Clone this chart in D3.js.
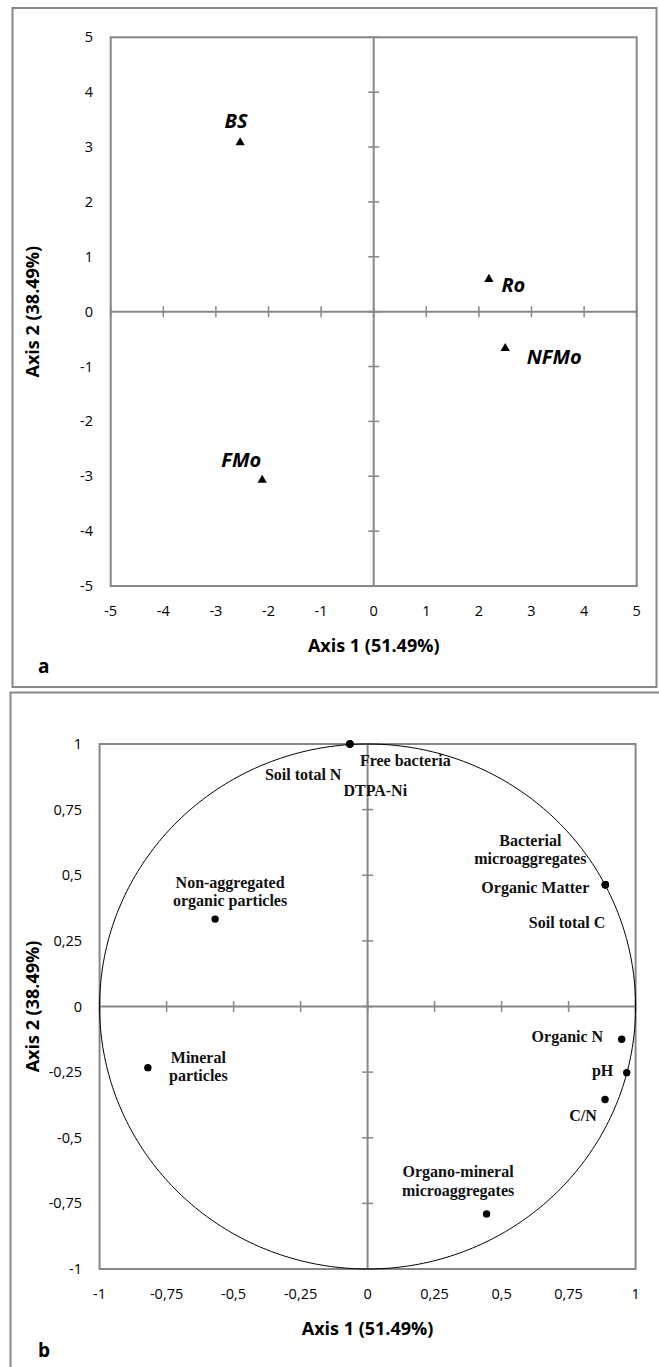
<!DOCTYPE html>
<html><head><meta charset="utf-8">
<script src="https://cdn.jsdelivr.net/npm/d3@7"></script>
<style>body{margin:0;background:#fff}svg{display:block}</style>
</head><body>
<svg id="c" width="659" height="1367"></svg>
<script>
// ---- Panel a data (sample scores) ----
const sampleNames = ["BS", "Ro", "NFMo", "FMo"];
const sampleX = [-2.54, 2.19, 2.50, -2.12];
const sampleY = [3.08, 0.59, -0.67, -3.07];
const ticksA = [-5, -4, -3, -2, -1, 0, 1, 2, 3, 4, 5];
const tickLabelsA = ["-5", "-4", "-3", "-2", "-1", "0", "1", "2", "3", "4", "5"];

// ---- Panel b data (variable correlations) ----
const varNames = ["Free bacteria", "Soil total N", "DTPA-Ni", "Organic Matter", "Bacterial microaggregates", "Soil total C",
  "Non-aggregated organic particles", "Mineral particles", "Organic N", "pH", "C/N", "Organo-mineral microaggregates"];
const varX = [-0.066, -0.066, -0.066, 0.887, 0.887, 0.887, -0.569, -0.82, 0.948, 0.967, 0.886, 0.444];
const varY = [1.0, 1.0, 1.0, 0.464, 0.464, 0.464, 0.333, -0.233, -0.125, -0.252, -0.354, -0.79];
const ticksB = [-1, -0.75, -0.5, -0.25, 0, 0.25, 0.5, 0.75, 1];
const tickLabelsB = ["-1", "-0,75", "-0,5", "-0,25", "0", "0,25", "0,5", "0,75", "1"];

// layout (label placement relative to point, px)
const labelA = [
  {dx: -4, dy: -14.5, anchor: "middle"},
  {dx: 12.5, dy: 12.5, anchor: "start"},
  {dx: 21.5, dy: 16, anchor: "start"},
  {dx: -1, dy: -13.5, anchor: "end"}];
const labelB = [
  {dx: 10, dy: 22, anchor: "start", lines: ["Free bacteria"]},
  {dx: -8.5, dy: 35.5, anchor: "end", lines: ["Soil total N"]},
  {dx: -6.5, dy: 51.5, anchor: "start", lines: ["DTPA-Ni"]},
  {dx: -16, dy: 8, anchor: "end", lines: ["Organic Matter"]},
  {dx: -75, dy: -39, anchor: "middle", lines: ["Bacterial", "microaggregates"]},
  {dx: 0, dy: 43, anchor: "end", lines: ["Soil total C"]},
  {dx: 15, dy: -31, anchor: "middle", lines: ["Non-aggregated", "organic particles"]},
  {dx: 50.5, dy: -5, anchor: "middle", lines: ["Mineral", "particles"]},
  {dx: -18.5, dy: 3, anchor: "end", lines: ["Organic N"]},
  {dx: -13.5, dy: 3.5, anchor: "end", lines: ["pH"]},
  {dx: -22, dy: 22, anchor: "middle", lines: ["C/N"]},
  {dx: -28.5, dy: -36.5, anchor: "middle", lines: ["Organo-mineral", "microaggregates"]}];

const svg = d3.select("#c");
const GRAY = "#878787";
const sans = "'Open Sans', sans-serif";
const serif = "'Liberation Serif', 'Times New Roman', serif";

// outer panel borders
svg.append("rect").attr("x", 12.5).attr("y", 8).attr("width", 644).attr("height", 679)
  .attr("fill", "none").attr("stroke", GRAY).attr("stroke-width", 2);
svg.append("rect").attr("x", 10.5).attr("y", 692.5).attr("width", 660).attr("height", 700)
  .attr("fill", "none").attr("stroke", GRAY).attr("stroke-width", 2);

function panel(cfg) {
  const {x, y, ticks, labels, g} = cfg;
  const [x0, x1] = x.range(), [y0, y1] = y.range();
  g.append("rect").attr("x", x0).attr("y", y1).attr("width", x1 - x0).attr("height", y0 - y1)
    .attr("fill", "none").attr("stroke", GRAY).attr("stroke-width", 2);
  g.append("line").attr("x1", x(0)).attr("x2", x(0)).attr("y1", y0).attr("y2", y1)
    .attr("stroke", GRAY).attr("stroke-width", 2);
  g.append("line").attr("x1", x0).attr("x2", x1).attr("y1", y(0)).attr("y2", y(0))
    .attr("stroke", GRAY).attr("stroke-width", 2);
  g.selectAll(".tx").data(ticks).join("line").attr("class", "tx")
    .attr("x1", d => x(d)).attr("x2", d => x(d)).attr("y1", y(0) - 5.5).attr("y2", y(0) + 5.5)
    .attr("stroke", GRAY).attr("stroke-width", 1.5);
  g.selectAll(".ty").data(ticks).join("line").attr("class", "ty")
    .attr("y1", d => y(d)).attr("y2", d => y(d)).attr("x1", x(0) - 5.5).attr("x2", x(0) + 5.5)
    .attr("stroke", GRAY).attr("stroke-width", 1.5);
  g.selectAll(".lx").data(ticks).join("text").attr("class", "lx")
    .attr("x", d => x(d)).attr("y", y0 + 29.5).attr("text-anchor", "middle")
    .attr("font-family", sans).attr("font-size", 14.5).attr("fill", "#000")
    .text((d, i) => labels[i]);
  g.selectAll(".ly").data(ticks).join("text").attr("class", "ly")
    .attr("x", cfg.ylabX).attr("y", d => y(d) + 5).attr("text-anchor", "end")
    .attr("font-family", sans).attr("font-size", 14.5).attr("fill", "#000")
    .text((d, i) => labels[i]);
  g.append("text").attr("x", (x0 + x1) / 2).attr("y", y0 + 65.5).attr("text-anchor", "middle")
    .attr("font-family", sans).attr("font-weight", "bold").attr("font-size", 18).text("Axis 1 (51.49%)");
  g.append("text").attr("transform", `translate(${cfg.ytitleX},${(y0 + y1) / 2}) rotate(-90)`)
    .attr("text-anchor", "middle").attr("font-family", sans).attr("font-weight", "bold")
    .attr("font-size", 18).text("Axis 2 (38.49%)");
  g.append("text").attr("x", 38).attr("y", cfg.letterY).attr("font-family", sans)
    .attr("font-weight", "bold").attr("font-size", 19).text(cfg.letter);
}

// ---- Panel a ----
const xA = d3.scaleLinear().domain([-5, 5]).range([110.7, 636.7]);
const yA = d3.scaleLinear().domain([-5, 5]).range([586, 37.3]);
const gA = svg.append("g");
panel({x: xA, y: yA, ticks: ticksA, labels: tickLabelsA, g: gA, ylabX: 93, ytitleX: 39, letter: "a", letterY: 673});
const tri = d3.symbol().type(d3.symbolTriangle).size(38);
gA.selectAll(".pt").data(sampleNames).join("path").attr("class", "pt")
  .attr("transform", (d, i) => `translate(${xA(sampleX[i])},${yA(sampleY[i])})`)
  .attr("d", tri).attr("fill", "#000");
gA.selectAll(".pl").data(sampleNames).join("text").attr("class", "pl")
  .attr("x", (d, i) => xA(sampleX[i]) + labelA[i].dx)
  .attr("y", (d, i) => yA(sampleY[i]) + labelA[i].dy)
  .attr("text-anchor", (d, i) => labelA[i].anchor)
  .attr("font-family", sans).attr("font-weight", "bold").attr("font-style", "italic")
  .attr("font-size", 20).text(d => d);

// ---- Panel b ----
const xB = d3.scaleLinear().domain([-1, 1]).range([99.6, 635.6]);
const yB = d3.scaleLinear().domain([-1, 1]).range([1269, 744]);
const gB = svg.append("g");
panel({x: xB, y: yB, ticks: ticksB, labels: tickLabelsB, g: gB, ylabX: 82, ytitleX: 39, letter: "b", letterY: 1357});
const ang = d3.range(0, 361, 1);
gB.append("path").datum(ang)
  .attr("d", d3.line().x(a => xB(Math.cos(a * Math.PI / 180))).y(a => yB(Math.sin(a * Math.PI / 180))))
  .attr("fill", "none").attr("stroke", "#000").attr("stroke-width", 1);
gB.selectAll(".vp").data(varNames).join("circle").attr("class", "vp")
  .attr("cx", (d, i) => xB(varX[i])).attr("cy", (d, i) => yB(varY[i])).attr("r", 3.7).attr("fill", "#000");
const vl = gB.selectAll(".vl").data(varNames).join("text").attr("class", "vl")
  .attr("text-anchor", (d, i) => labelB[i].anchor)
  .attr("font-family", serif).attr("font-weight", "bold").attr("font-size", 16).attr("fill", "#111");
vl.each(function(d, i) {
  const t = d3.select(this);
  labelB[i].lines.forEach((ln, k) => {
    t.append("tspan").attr("x", xB(varX[i]) + labelB[i].dx)
      .attr("y", yB(varY[i]) + labelB[i].dy + k * 18.3).text(ln);
  });
});
</script>
</body></html>
